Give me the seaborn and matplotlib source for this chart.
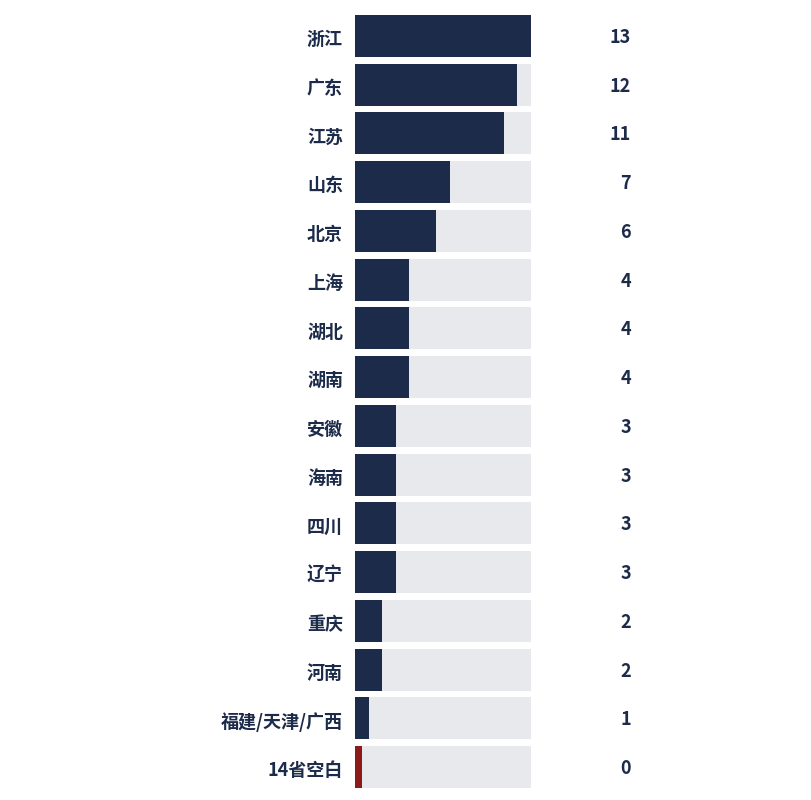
import matplotlib
matplotlib.use("Agg")
import matplotlib.pyplot as plt
import matplotlib.transforms as mtransforms
import seaborn as sns
import pandas as pd

provinces = ["浙江", "广东", "江苏", "山东", "北京", "上海", "湖北", "湖南",
             "安徽", "海南", "四川", "辽宁", "重庆", "河南", "福建/天津/广西", "14省空白"]
counts = [13, 12, 11, 7, 6, 4, 4, 4, 3, 3, 3, 3, 2, 2, 1, 0]
zero_marker = 0.45  # visual stub drawn for the zero-count row

NAVY = "#1c2b4a"
GRAY = "#e8e9ed"
RED = "#8b1a1a"

sns.set_theme(style="white")
plt.rcParams['font.family'] = ['Noto Sans CJK SC', 'DejaVu Sans']

max_val = max(counts)
df = pd.DataFrame({
    "province": provinces,
    "count": counts,
    "shown": [c if c > 0 else zero_marker for c in counts],
    "full": [max_val] * len(counts),
})
colors = {p: (RED if c == 0 else NAVY) for p, c in zip(provinces, counts)}

fig = plt.figure(figsize=(8.12, 8.0), dpi=100)
ax = fig.add_axes([355.5 / 812, 1 - 791.4 / 800, 175.5 / 812, (791.4 - 11.6) / 800])

sns.barplot(data=df, y="province", x="full", color=GRAY, width=0.86,
            orient="h", ax=ax, saturation=1, linewidth=0, edgecolor="none")
sns.barplot(data=df, y="province", x="shown", hue="province", palette=colors,
            width=0.86, orient="h", ax=ax, legend=False, saturation=1,
            linewidth=0, edgecolor="none")

ax.set_xlim(0, max_val)
ax.set_ylim(len(provinces) - 0.5, -0.5)
ax.set_xlabel("")
ax.set_ylabel("")
ax.set_xticks([])
for s in ax.spines.values():
    s.set_visible(False)
ax.tick_params(axis="y", length=0, pad=9)
shift = mtransforms.ScaledTranslation(0, -1.5 / 100, fig.dpi_scale_trans)
for lab in ax.get_yticklabels():
    lab.set_fontsize(13)
    lab.set_fontweight("bold")
    lab.set_color(NAVY)
    lab.set_transform(lab.get_transform() + shift)

trans = mtransforms.blended_transform_factory(ax.transAxes, ax.transData) + shift
for i, c in enumerate(counts):
    ax.text((631 - 355.5) / 175.5, i, str(c), transform=trans, ha="right", va="center",
            fontsize=13, fontweight="bold", color=NAVY, clip_on=False)

fig.savefig("out.png", dpi=100)
